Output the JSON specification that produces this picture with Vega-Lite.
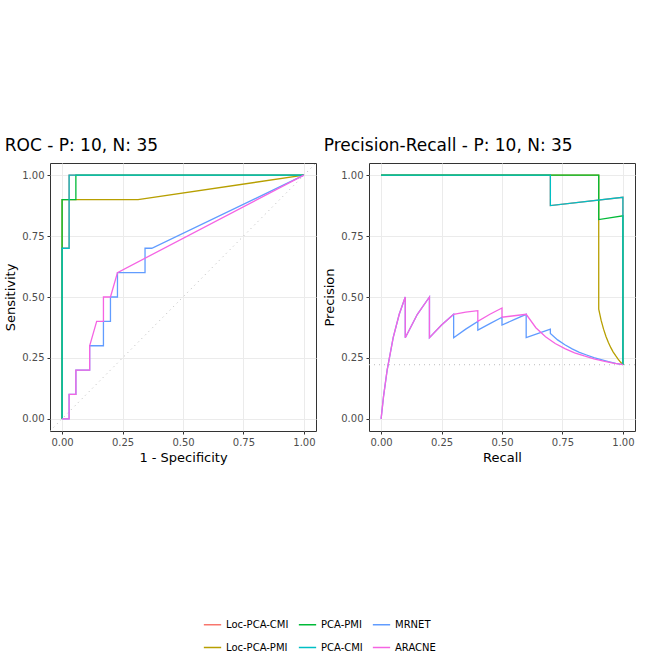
{
  "$schema": "https://vega.github.io/schema/vega-lite/v6.json",
  "background": "white",
  "padding": {"top": 136, "left": 4, "right": 4, "bottom": 10},
  "datasets": {
    "roc": [
      {"m": "Loc-PCA-CMI", "o": 1, "x": 0, "y": 0}, {"m": "Loc-PCA-CMI", "o": 2, "x": 0, "y": 0.7}, {"m": "Loc-PCA-CMI", "o": 3, "x": 0.029, "y": 0.7}, {"m": "Loc-PCA-CMI", "o": 4, "x": 0.029, "y": 1}, {"m": "Loc-PCA-CMI", "o": 5, "x": 1, "y": 1},
      {"m": "Loc-PCA-PMI", "o": 1, "x": 0, "y": 0}, {"m": "Loc-PCA-PMI", "o": 2, "x": 0, "y": 0.9}, {"m": "Loc-PCA-PMI", "o": 3, "x": 0.314, "y": 0.9}, {"m": "Loc-PCA-PMI", "o": 4, "x": 1, "y": 1},
      {"m": "PCA-PMI", "o": 1, "x": 0, "y": 0}, {"m": "PCA-PMI", "o": 2, "x": 0, "y": 0.9}, {"m": "PCA-PMI", "o": 3, "x": 0.057, "y": 0.9}, {"m": "PCA-PMI", "o": 4, "x": 0.057, "y": 1}, {"m": "PCA-PMI", "o": 5, "x": 1, "y": 1},
      {"m": "PCA-CMI", "o": 1, "x": 0, "y": 0}, {"m": "PCA-CMI", "o": 2, "x": 0, "y": 0.7}, {"m": "PCA-CMI", "o": 3, "x": 0.029, "y": 0.7}, {"m": "PCA-CMI", "o": 4, "x": 0.029, "y": 1}, {"m": "PCA-CMI", "o": 5, "x": 1, "y": 1},
      {"m": "MRNET", "o": 1, "x": 0, "y": 0}, {"m": "MRNET", "o": 2, "x": 0.029, "y": 0}, {"m": "MRNET", "o": 3, "x": 0.029, "y": 0.1}, {"m": "MRNET", "o": 4, "x": 0.057, "y": 0.1}, {"m": "MRNET", "o": 5, "x": 0.057, "y": 0.2}, {"m": "MRNET", "o": 6, "x": 0.114, "y": 0.2}, {"m": "MRNET", "o": 7, "x": 0.114, "y": 0.3}, {"m": "MRNET", "o": 8, "x": 0.171, "y": 0.3}, {"m": "MRNET", "o": 9, "x": 0.171, "y": 0.4}, {"m": "MRNET", "o": 10, "x": 0.2, "y": 0.4}, {"m": "MRNET", "o": 11, "x": 0.2, "y": 0.5}, {"m": "MRNET", "o": 12, "x": 0.229, "y": 0.5}, {"m": "MRNET", "o": 13, "x": 0.229, "y": 0.6}, {"m": "MRNET", "o": 14, "x": 0.343, "y": 0.6}, {"m": "MRNET", "o": 15, "x": 0.343, "y": 0.7}, {"m": "MRNET", "o": 16, "x": 0.371, "y": 0.7}, {"m": "MRNET", "o": 17, "x": 1, "y": 1},
      {"m": "ARACNE", "o": 1, "x": 0, "y": 0}, {"m": "ARACNE", "o": 2, "x": 0.029, "y": 0}, {"m": "ARACNE", "o": 3, "x": 0.029, "y": 0.1}, {"m": "ARACNE", "o": 4, "x": 0.057, "y": 0.1}, {"m": "ARACNE", "o": 5, "x": 0.057, "y": 0.2}, {"m": "ARACNE", "o": 6, "x": 0.114, "y": 0.2}, {"m": "ARACNE", "o": 7, "x": 0.114, "y": 0.3}, {"m": "ARACNE", "o": 8, "x": 0.143, "y": 0.4}, {"m": "ARACNE", "o": 9, "x": 0.171, "y": 0.4}, {"m": "ARACNE", "o": 10, "x": 0.171, "y": 0.5}, {"m": "ARACNE", "o": 11, "x": 0.2, "y": 0.5}, {"m": "ARACNE", "o": 12, "x": 0.229, "y": 0.6}, {"m": "ARACNE", "o": 13, "x": 1, "y": 1}
    ],
    "pr": [
      {"m": "Loc-PCA-CMI", "o": 1, "x": 0, "y": 1}, {"m": "Loc-PCA-CMI", "o": 2, "x": 0.7, "y": 1}, {"m": "Loc-PCA-CMI", "o": 3, "x": 0.7, "y": 0.875}, {"m": "Loc-PCA-CMI", "o": 4, "x": 1, "y": 0.909}, {"m": "Loc-PCA-CMI", "o": 5, "x": 1, "y": 0.222},
      {"m": "Loc-PCA-PMI", "o": 1, "x": 0, "y": 1}, {"m": "Loc-PCA-PMI", "o": 2, "x": 0.9, "y": 1}, {"m": "Loc-PCA-PMI", "o": 3, "x": 0.9, "y": 0.45}, {"m": "Loc-PCA-PMI", "o": 4, "x": 0.91, "y": 0.404}, {"m": "Loc-PCA-PMI", "o": 5, "x": 0.92, "y": 0.368}, {"m": "Loc-PCA-PMI", "o": 6, "x": 0.93, "y": 0.338}, {"m": "Loc-PCA-PMI", "o": 7, "x": 0.94, "y": 0.313}, {"m": "Loc-PCA-PMI", "o": 8, "x": 0.95, "y": 0.292}, {"m": "Loc-PCA-PMI", "o": 9, "x": 0.96, "y": 0.274}, {"m": "Loc-PCA-PMI", "o": 10, "x": 0.97, "y": 0.259}, {"m": "Loc-PCA-PMI", "o": 11, "x": 0.98, "y": 0.245}, {"m": "Loc-PCA-PMI", "o": 12, "x": 0.99, "y": 0.233}, {"m": "Loc-PCA-PMI", "o": 13, "x": 1, "y": 0.222},
      {"m": "PCA-PMI", "o": 1, "x": 0, "y": 1}, {"m": "PCA-PMI", "o": 2, "x": 0.9, "y": 1}, {"m": "PCA-PMI", "o": 3, "x": 0.9, "y": 0.818}, {"m": "PCA-PMI", "o": 4, "x": 1, "y": 0.833}, {"m": "PCA-PMI", "o": 5, "x": 1, "y": 0.222},
      {"m": "PCA-CMI", "o": 1, "x": 0, "y": 1}, {"m": "PCA-CMI", "o": 2, "x": 0.7, "y": 1}, {"m": "PCA-CMI", "o": 3, "x": 0.7, "y": 0.875}, {"m": "PCA-CMI", "o": 4, "x": 1, "y": 0.909}, {"m": "PCA-CMI", "o": 5, "x": 1, "y": 0.222},
      {"m": "MRNET", "o": 1, "x": 0, "y": 0}, {"m": "MRNET", "o": 2, "x": 0.01, "y": 0.091}, {"m": "MRNET", "o": 3, "x": 0.025, "y": 0.2}, {"m": "MRNET", "o": 4, "x": 0.05, "y": 0.333}, {"m": "MRNET", "o": 5, "x": 0.075, "y": 0.429}, {"m": "MRNET", "o": 6, "x": 0.1, "y": 0.5}, {"m": "MRNET", "o": 7, "x": 0.1, "y": 0.333}, {"m": "MRNET", "o": 8, "x": 0.15, "y": 0.429}, {"m": "MRNET", "o": 9, "x": 0.2, "y": 0.5}, {"m": "MRNET", "o": 10, "x": 0.2, "y": 0.333}, {"m": "MRNET", "o": 11, "x": 0.25, "y": 0.385}, {"m": "MRNET", "o": 12, "x": 0.3, "y": 0.429}, {"m": "MRNET", "o": 13, "x": 0.3, "y": 0.333}, {"m": "MRNET", "o": 14, "x": 0.35, "y": 0.368}, {"m": "MRNET", "o": 15, "x": 0.4, "y": 0.4}, {"m": "MRNET", "o": 16, "x": 0.4, "y": 0.364}, {"m": "MRNET", "o": 17, "x": 0.45, "y": 0.391}, {"m": "MRNET", "o": 18, "x": 0.5, "y": 0.417}, {"m": "MRNET", "o": 19, "x": 0.5, "y": 0.385}, {"m": "MRNET", "o": 20, "x": 0.55, "y": 0.407}, {"m": "MRNET", "o": 21, "x": 0.6, "y": 0.429}, {"m": "MRNET", "o": 22, "x": 0.6, "y": 0.333}, {"m": "MRNET", "o": 23, "x": 0.65, "y": 0.351}, {"m": "MRNET", "o": 24, "x": 0.7, "y": 0.368}, {"m": "MRNET", "o": 25, "x": 0.7, "y": 0.35}, {"m": "MRNET", "o": 26, "x": 0.73, "y": 0.324}, {"m": "MRNET", "o": 27, "x": 0.76, "y": 0.304}, {"m": "MRNET", "o": 28, "x": 0.79, "y": 0.287}, {"m": "MRNET", "o": 29, "x": 0.82, "y": 0.273}, {"m": "MRNET", "o": 30, "x": 0.85, "y": 0.262}, {"m": "MRNET", "o": 31, "x": 0.88, "y": 0.251}, {"m": "MRNET", "o": 32, "x": 0.91, "y": 0.243}, {"m": "MRNET", "o": 33, "x": 0.94, "y": 0.235}, {"m": "MRNET", "o": 34, "x": 0.97, "y": 0.228}, {"m": "MRNET", "o": 35, "x": 1, "y": 0.222},
      {"m": "ARACNE", "o": 1, "x": 0, "y": 0}, {"m": "ARACNE", "o": 2, "x": 0.01, "y": 0.091}, {"m": "ARACNE", "o": 3, "x": 0.025, "y": 0.2}, {"m": "ARACNE", "o": 4, "x": 0.05, "y": 0.333}, {"m": "ARACNE", "o": 5, "x": 0.075, "y": 0.429}, {"m": "ARACNE", "o": 6, "x": 0.1, "y": 0.5}, {"m": "ARACNE", "o": 7, "x": 0.1, "y": 0.333}, {"m": "ARACNE", "o": 8, "x": 0.15, "y": 0.429}, {"m": "ARACNE", "o": 9, "x": 0.2, "y": 0.5}, {"m": "ARACNE", "o": 10, "x": 0.2, "y": 0.333}, {"m": "ARACNE", "o": 11, "x": 0.25, "y": 0.385}, {"m": "ARACNE", "o": 12, "x": 0.3, "y": 0.429}, {"m": "ARACNE", "o": 13, "x": 0.35, "y": 0.438}, {"m": "ARACNE", "o": 14, "x": 0.4, "y": 0.444}, {"m": "ARACNE", "o": 15, "x": 0.4, "y": 0.4}, {"m": "ARACNE", "o": 16, "x": 0.45, "y": 0.429}, {"m": "ARACNE", "o": 17, "x": 0.5, "y": 0.455}, {"m": "ARACNE", "o": 18, "x": 0.5, "y": 0.417}, {"m": "ARACNE", "o": 19, "x": 0.55, "y": 0.423}, {"m": "ARACNE", "o": 20, "x": 0.6, "y": 0.429}, {"m": "ARACNE", "o": 21, "x": 0.64, "y": 0.374}, {"m": "ARACNE", "o": 22, "x": 0.68, "y": 0.337}, {"m": "ARACNE", "o": 23, "x": 0.72, "y": 0.309}, {"m": "ARACNE", "o": 24, "x": 0.76, "y": 0.288}, {"m": "ARACNE", "o": 25, "x": 0.8, "y": 0.271}, {"m": "ARACNE", "o": 26, "x": 0.84, "y": 0.258}, {"m": "ARACNE", "o": 27, "x": 0.88, "y": 0.246}, {"m": "ARACNE", "o": 28, "x": 0.92, "y": 0.237}, {"m": "ARACNE", "o": 29, "x": 0.96, "y": 0.229}, {"m": "ARACNE", "o": 30, "x": 1, "y": 0.222}
    ],
    "rocref": [{"x": -0.05, "y": -0.05}, {"x": 1.05, "y": 1.05}],
    "prref": [{"x": -0.05, "y": 0.222}, {"x": 1.05, "y": 0.222}]
  },
  "config": {
    "font": "DejaVu Sans",
    "view": {"stroke": "#333333", "strokeWidth": 1},
    "axis": {
      "gridColor": "#ebebeb", "domain": false, "tickColor": "#333333", "tickSize": 3,
      "labelColor": "#4d4d4d", "labelFontSize": 10, "titleFontSize": 13, "titleFontWeight": "normal", "titleColor": "black",
      "labelPadding": 3, "titlePadding": 4
    },
    "title": {"fontSize": 17, "fontWeight": "normal", "anchor": "start", "offset": 8},
    "legend": {"orient": "bottom", "columns": 3, "title": null, "labelFontSize": 10, "offset": 150, "symbolType": "stroke", "symbolSize": 300, "rowPadding": 8, "columnPadding": 6, "layout": {"bottom": {"anchor": "middle"}}}
  },
  "resolve": {"scale": {"color": "shared"}},
  "spacing": 6,
  "hconcat": [
    {
      "title": "ROC - P: 10, N: 35",
      "width": 266, "height": 268,
      "layer": [
        {
          "data": {"name": "rocref"},
          "mark": {"type": "line", "color": "#bbbbbb", "strokeDash": [1, 4], "strokeWidth": 1, "clip": true},
          "encoding": {"x": {"field": "x", "type": "quantitative"}, "y": {"field": "y", "type": "quantitative"}}
        },
        {
          "data": {"name": "roc"},
          "mark": {"type": "line", "strokeWidth": 1.3},
          "encoding": {
            "x": {"field": "x", "type": "quantitative", "title": "1 - Specificity", "scale": {"domain": [-0.05, 1.05], "nice": false}, "axis": {"values": [0, 0.25, 0.5, 0.75, 1], "format": ".2f"}},
            "y": {"field": "y", "type": "quantitative", "title": "Sensitivity", "scale": {"domain": [-0.05, 1.05], "nice": false}, "axis": {"values": [0, 0.25, 0.5, 0.75, 1], "format": ".2f"}},
            "order": {"field": "o"},
            "color": {"field": "m", "type": "nominal", "scale": {"domain": ["Loc-PCA-CMI", "PCA-PMI", "MRNET", "Loc-PCA-PMI", "PCA-CMI", "ARACNE"], "range": ["#F8766D", "#00BA38", "#619CFF", "#B79F00", "#00BFC4", "#F564E3"]}}
          }
        }
      ]
    },
    {
      "title": "Precision-Recall - P: 10, N: 35",
      "width": 266, "height": 268,
      "layer": [
        {
          "data": {"name": "prref"},
          "mark": {"type": "line", "color": "#bbbbbb", "strokeDash": [1, 4], "strokeWidth": 1, "clip": true},
          "encoding": {"x": {"field": "x", "type": "quantitative"}, "y": {"field": "y", "type": "quantitative"}}
        },
        {
          "data": {"name": "pr"},
          "mark": {"type": "line", "strokeWidth": 1.3},
          "encoding": {
            "x": {"field": "x", "type": "quantitative", "title": "Recall", "scale": {"domain": [-0.05, 1.05], "nice": false}, "axis": {"values": [0, 0.25, 0.5, 0.75, 1], "format": ".2f"}},
            "y": {"field": "y", "type": "quantitative", "title": "Precision", "scale": {"domain": [-0.05, 1.05], "nice": false}, "axis": {"values": [0, 0.25, 0.5, 0.75, 1], "format": ".2f"}},
            "order": {"field": "o"},
            "color": {"field": "m", "type": "nominal"}
          }
        }
      ]
    }
  ]
}
